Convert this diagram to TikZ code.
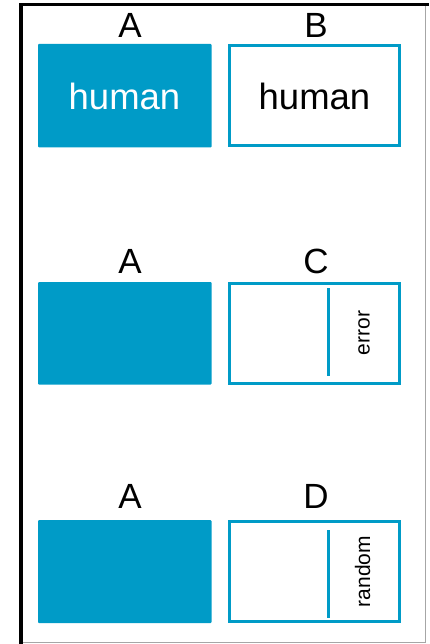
\documentclass[tikz,border=0pt]{standalone}
\usepackage{fontspec}
\setmainfont{Liberation Sans}
\definecolor{teal}{RGB}{0,155,199}
\begin{document}
\begin{tikzpicture}[x=1pt,y=-1pt,
  lab/.style={anchor=base,inner sep=0pt,font=\fontsize{35}{40}\selectfont},
  fillbox/.style={fill=teal,draw=none,rounded corners=1pt},
  outbox/.style={draw=teal,line width=3pt,fill=white},
  divider/.style={draw=teal,line width=3pt},
  vtext/.style={rotate=90,inner sep=0pt,font=\fontsize{21}{24}\selectfont}]
\useasboundingbox (0,0) rectangle (429,644);
% frame
\draw[gray!70,line width=1pt] (425,3) -- (425,642) -- (20,642);
\draw[black,line width=3.5pt] (21,644) -- (21,4.5) -- (429,4.5);
% labels
\node[lab] (la1) at (130,38) {A};
\node[lab] (lb) at (316,38) {B};
\node[lab] (la2) at (130,273) {A};
\node[lab] (lc) at (316,273) {C};
\node[lab] (la3) at (130,508) {A};
\node[lab] (ld) at (316,508) {D};
% row 1
\path[fillbox] (38,44) rectangle (211.5,147.5);
\draw[outbox] (229.5,45.5) rectangle (399.5,146);
\node[anchor=base,inner sep=0pt,text=white,font=\fontsize{36.5}{40}\selectfont] (h1) at (124.5,110) {human};
\node[anchor=base,inner sep=0pt,font=\fontsize{36.5}{40}\selectfont] (h2) at (314.5,110) {human};
% row 2
\path[fillbox] (38,282) rectangle (211.5,384.5);
\draw[outbox] (229.5,283.5) rectangle (399.5,383);
\draw[divider] (328,288) -- (328,376);
\node[vtext] (err) at (364,333) {error};
% row 3
\path[fillbox] (38,520) rectangle (211.5,623);
\draw[outbox] (229.5,521.5) rectangle (399.5,621.5);
\draw[divider] (328,530) -- (328,618);
\node[vtext] (rnd) at (362.5,571.5) {random};
\end{tikzpicture}
\end{document}
